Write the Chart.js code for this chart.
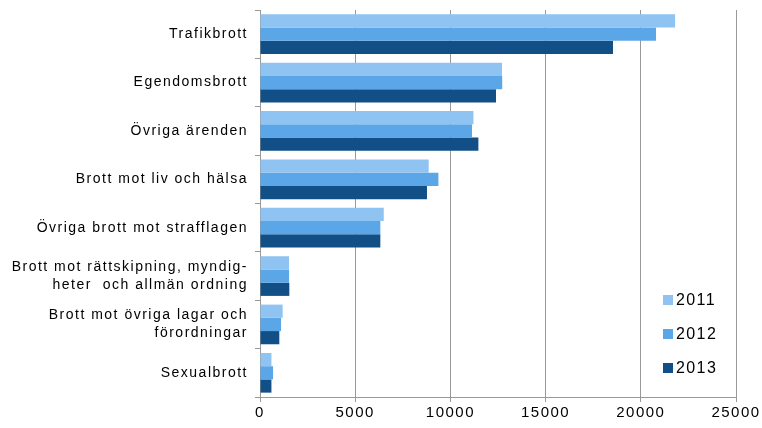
<!DOCTYPE html>
<html>
<head>
<meta charset="utf-8">
<script src="https://cdn.jsdelivr.net/npm/chart.js@4"></script>
<style>
  html, body { margin: 0; padding: 0; background: #fff; }
  #wrap { width: 762px; height: 428px; }
</style>
</head>
<body>
<div id="wrap"><canvas id="chart"></canvas></div>
<script>
const categories = [
    "Trafikbrott",
    "Egendomsbrott",
    "Övriga ärenden",
    "Brott mot liv och hälsa",
    "Övriga brott mot strafflagen",
    ["Brott mot rättskipning, myndig-", "heter  och allmän ordning"],
    ["Brott mot övriga lagar och", "förordningar"],
    "Sexualbrott"
];
const years = ["2011", "2012", "2013"];
const values2011 = [21800, 12710, 11210, 8860, 6500, 1525, 1190, 600];
const values2012 = [20800, 12720, 11135, 9370, 6320, 1525, 1105, 685];
const values2013 = [18540, 12395, 11470, 8770, 6320, 1540, 1015, 600];
const colors = ["#8fc3f1", "#5aa6e7", "#124f86"];

const spacing = {
    id: "spacing",
    beforeDraw(chart) { chart.ctx.letterSpacing = "1.5px"; }
};

// legend drawn inside the plot, bottom right
const innerLegend = {
    id: "innerLegend",
    afterDraw(chart) {
        const ctx = chart.ctx, area = chart.chartArea;
        ctx.save();
        ctx.letterSpacing = "1.4px";
        ctx.font = "16px 'Liberation Sans', Arial, sans-serif";
        ctx.textBaseline = "middle";
        chart.data.datasets.forEach((ds, i) => {
            const y = area.bottom - 97 + i * 34;
            const x = area.right - 73;
            ctx.fillStyle = ds.backgroundColor;
            ctx.fillRect(x, y - 5, 10, 10);
            ctx.fillStyle = "#000";
            ctx.textAlign = "left";
            ctx.fillText(ds.label, x + 13, y + 1);
        });
        ctx.restore();
    }
};

new Chart(document.getElementById("chart"), {
    type: "bar",
    data: {
        labels: categories,
        datasets: [
            { label: years[0], data: values2011, backgroundColor: colors[0] },
            { label: years[1], data: values2012, backgroundColor: colors[1] },
            { label: years[2], data: values2013, backgroundColor: colors[2] }
        ]
    },
    options: {
        indexAxis: "y",
        responsive: true,
        maintainAspectRatio: false,
        animation: false,
        layout: { padding: { left: 0, top: 10, right: 26, bottom: 0 } },
        datasets: { bar: { categoryPercentage: 0.82, barPercentage: 1.0, borderWidth: 0 } },
        plugins: {
            legend: { display: false },
            tooltip: { enabled: false }
        },
        scales: {
            x: {
                min: 0, max: 25000,
                ticks: { stepSize: 5000, color: "#000", padding: 2,
                         callback: v => String(v),
                         font: { family: "'Liberation Sans', Arial, sans-serif", size: 15 } },
                grid: { color: "#999", tickLength: 5 },
                border: { color: "#999" },
                afterFit(scale) { scale.height = 31; }
            },
            y: {
                ticks: { color: "#000", padding: 7,
                         font: { family: "'Liberation Sans', Arial, sans-serif", size: 14, lineHeight: 1.3 } },
                grid: { drawOnChartArea: false, color: "#999", tickLength: 5, offset: true },
                border: { color: "#999" },
                afterFit(scale) {
                    scale.width = 260;
                    scale.paddingTop = 0;
                    scale.paddingBottom = 0;
                }
            }
        }
    },
    plugins: [spacing, innerLegend]
});
</script>
</body>
</html>
